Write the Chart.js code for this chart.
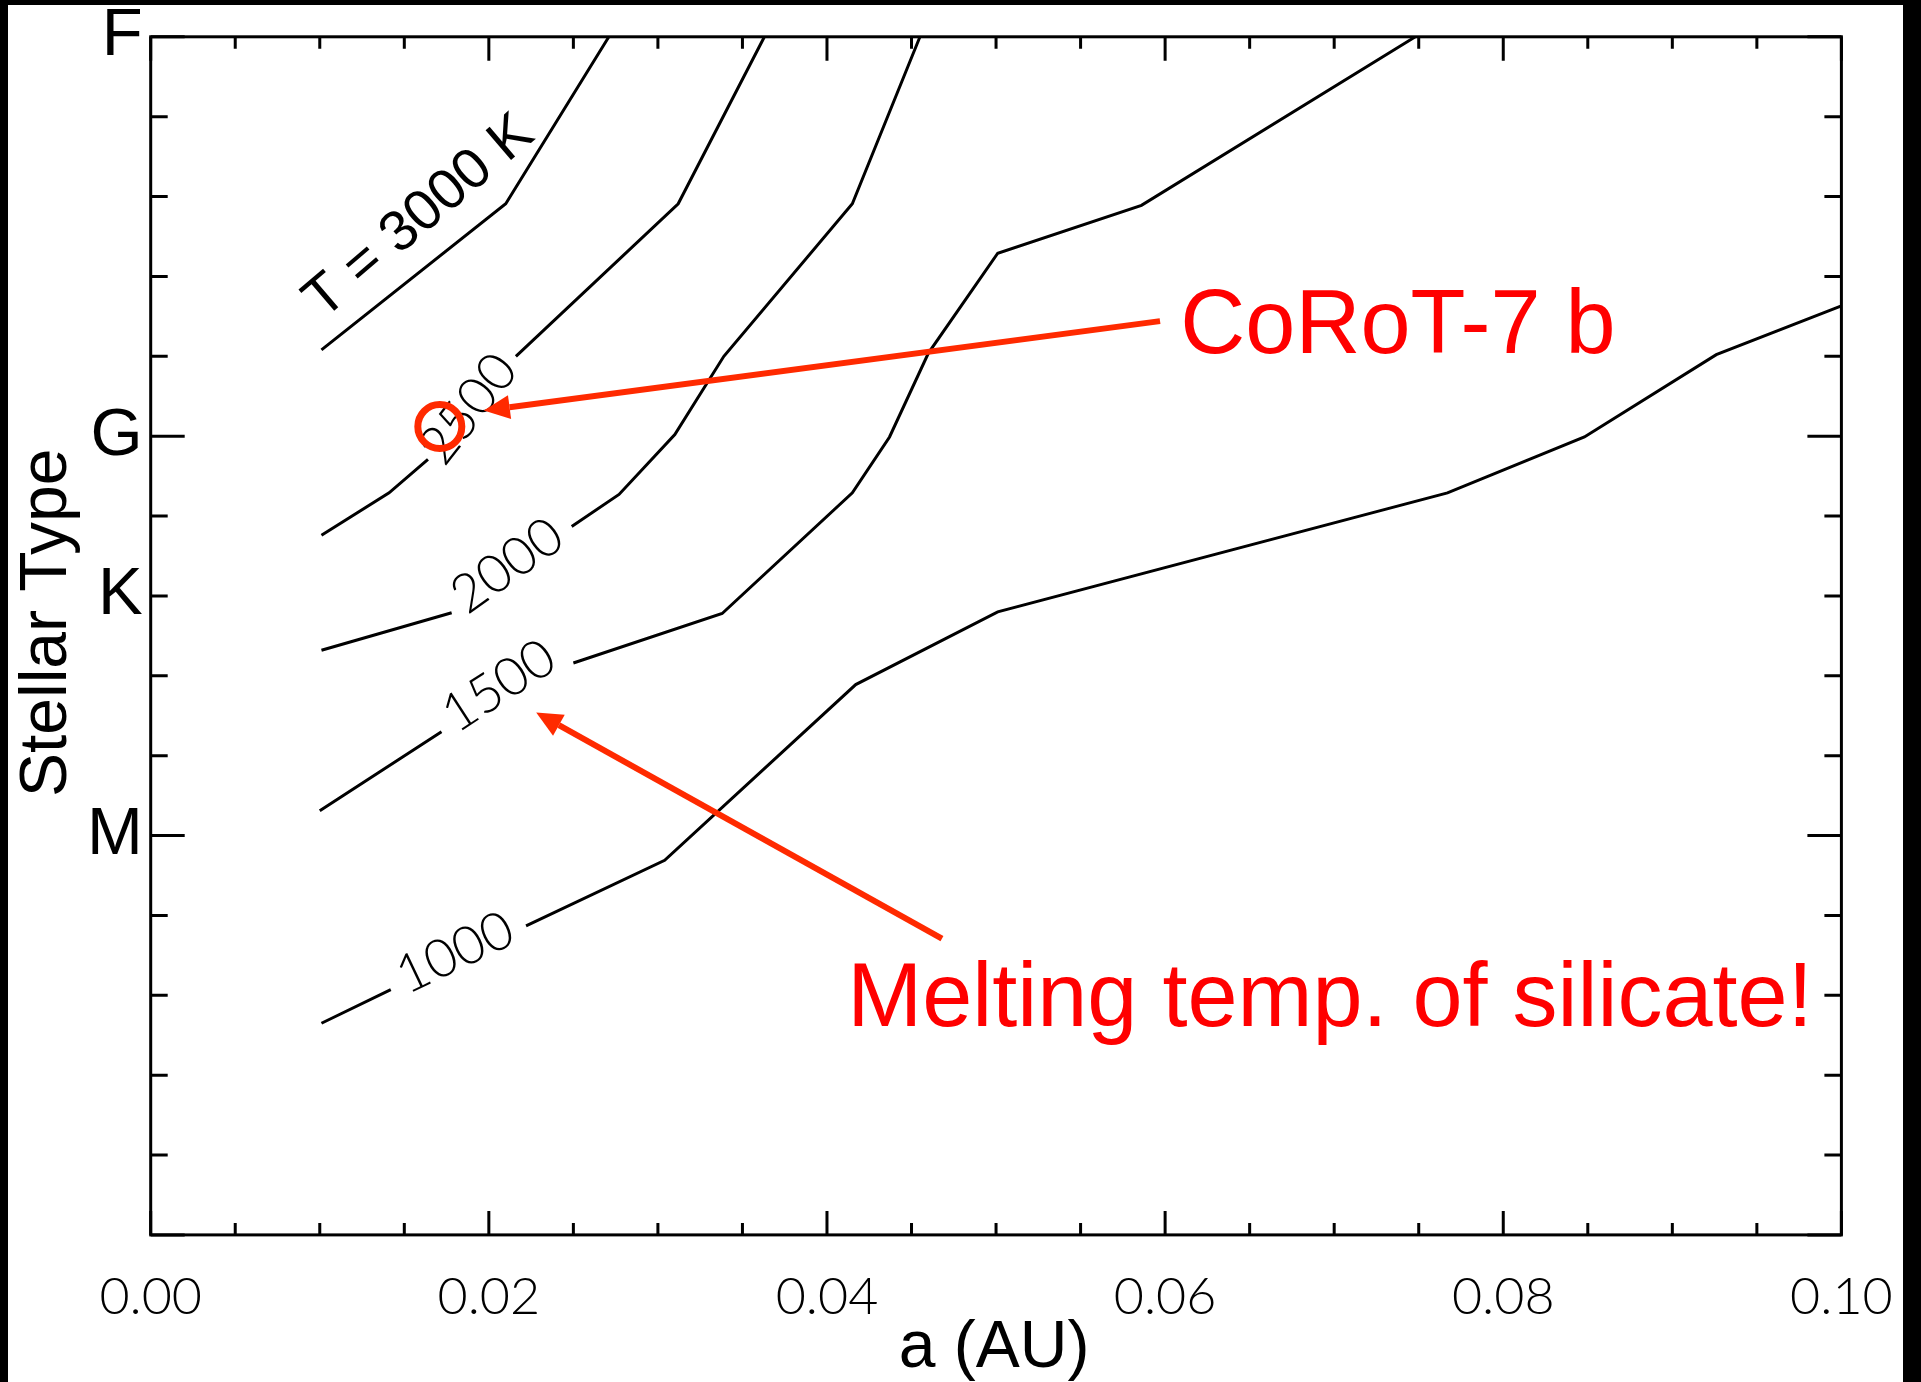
<!DOCTYPE html>
<html>
<head>
<meta charset="utf-8">
<title>Stellar type vs. orbital distance</title>
<script src="https://cdn.jsdelivr.net/npm/chart.js@4.4.1/dist/chart.umd.min.js"></script>
<style>
  html, body { margin: 0; padding: 0; background: #fff; }
</style>
</head>
<body>
<canvas id="tempChart" width="1921" height="1382"></canvas>
<script>
// x: orbital distance a (AU), y: stellar mass (Msun), stellar types marked on the left
const xTickValues = [0, 0.02, 0.04, 0.06, 0.08, 0.10];
const yTickValues = [0.5, 0.8, 1.0, 1.5];
const yTickLabels = ['M', 'K', 'G', 'F'];

// equilibrium temperature contours, [a, mass]; null = gap for the label
const contourLevels = [1000, 1500, 2000, 2500, 3000];
const contour1000 = [[0.0101, 0.265], [0.0142, 0.307], null, [0.0222, 0.387], [0.0304, 0.469],
  [0.0417, 0.689], [0.0501, 0.780], [0.0767, 0.929], [0.0848, 0.999], [0.0926, 1.102], [0.1000, 1.163]];
const contour1500 = [[0.0100, 0.531], [0.0172, 0.630], null, [0.0250, 0.716], [0.0338, 0.778],
  [0.0415, 0.929], [0.0437, 0.999], [0.0460, 1.104], [0.0501, 1.229], [0.0586, 1.289], [0.0748, 1.500]];
const contour2000 = [[0.0101, 0.732], [0.0178, 0.779], null, [0.0249, 0.887], [0.0277, 0.927],
  [0.0310, 1.002], [0.0339, 1.100], [0.0415, 1.291], [0.0455, 1.500]];
const contour2500 = [[0.0101, 0.876], [0.0141, 0.929], [0.0164, 0.971], null, [0.0216, 1.100],
  [0.0312, 1.291], [0.0363, 1.500]];
const contour3000 = [[0.0101, 1.108], [0.0210, 1.291], [0.0271, 1.500]];
const contourLines = [contour1000, contour1500, contour2000, contour2500, contour3000];

// where the level numbers sit along their lines (3000 gets its own label)
const labelA = [0.0180, 0.0206, 0.0211, 0.0188];
const labelM = [0.353, 0.687, 0.8375, 1.034];
const labelAngle = [-25.5, -33, -35.5, -52];

// CoRoT-7 b
const planetA = [0.0171];
const planetM = [1.012];

const RED = '#ff0000';
const ARROW = '#ff2a00';
const SANS = '"Liberation Sans", Arial, sans-serif';
const THIN = 'Lato, "DejaVu Sans", sans-serif';

function toPoints(line) {
  return line.map((p, i) => p ? { x: p[0], y: p[1] } : { x: line[i - 1][0], y: null });
}

function arrow(ctx, x1, y1, x2, y2) {
  const ang = Math.atan2(y2 - y1, x2 - x1);
  const head = 26, half = 12;
  const bx = x2 - head * Math.cos(ang), by = y2 - head * Math.sin(ang);
  ctx.beginPath();
  ctx.moveTo(x1, y1);
  ctx.lineTo(bx, by);
  ctx.stroke();
  ctx.beginPath();
  ctx.moveTo(x2, y2);
  ctx.lineTo(bx + half * Math.sin(ang), by - half * Math.cos(ang));
  ctx.lineTo(bx - half * Math.sin(ang), by + half * Math.cos(ang));
  ctx.closePath();
  ctx.fill();
}

// level numbers go under the lines
const levelLabels = {
  id: 'levelLabels',
  beforeDatasetsDraw(chart) {
    const { ctx, scales: { x, y } } = chart;
    ctx.save();
    ctx.fillStyle = '#000';
    ctx.font = '300 53px ' + THIN;
    ctx.textAlign = 'center';
    ctx.textBaseline = 'middle';
    labelA.forEach((a, i) => {
      ctx.save();
      ctx.translate(x.getPixelForValue(a), y.getPixelForValue(labelM[i]));
      ctx.rotate(labelAngle[i] * Math.PI / 180);
      ctx.fillText(String(contourLevels[i]), 0, 0);
      ctx.restore();
    });
    // T = 3000 K sits above its line
    ctx.save();
    ctx.font = '57px ' + SANS;
    ctx.translate(x.getPixelForValue(0.0159), y.getPixelForValue(1.274));
    ctx.rotate(-40.5 * Math.PI / 180);
    ctx.fillText('T = 3000 K', 0, 0);
    ctx.restore();
    ctx.restore();
  }
};

// frame, inward ticks on all four sides, notes and arrows
const decorations = {
  id: 'decorations',
  afterDatasetsDraw(chart) {
    const { ctx, chartArea: a, scales: { x, y } } = chart;
    ctx.save();
    ctx.strokeStyle = '#000';
    ctx.lineWidth = 3;
    ctx.beginPath();
    for (let i = 0; i <= 20; i++) {
      const px = x.getPixelForValue(i * 0.005);
      const len = i % 4 === 0 ? 24 : 12;
      ctx.moveTo(px, a.bottom); ctx.lineTo(px, a.bottom - len);
      ctx.moveTo(px, a.top); ctx.lineTo(px, a.top + len);
    }
    for (let j = 0; j <= 15; j++) {
      const py = y.getPixelForValue(j * 0.1);
      const len = j % 5 === 0 ? 34 : 17;
      ctx.moveTo(a.left, py); ctx.lineTo(a.left + len, py);
      ctx.moveTo(a.right, py); ctx.lineTo(a.right - len, py);
    }
    ctx.stroke();
    ctx.strokeRect(a.left, a.top, a.right - a.left, a.bottom - a.top);

    ctx.strokeStyle = ARROW;
    ctx.fillStyle = ARROW;
    ctx.lineWidth = 6;
    arrow(ctx, x.getPixelForValue(0.0597), y.getPixelForValue(1.144),
      x.getPixelForValue(0.0197), y.getPixelForValue(1.032));
    arrow(ctx, x.getPixelForValue(0.0468), y.getPixelForValue(0.371),
      x.getPixelForValue(0.0228), y.getPixelForValue(0.654));

    ctx.fillStyle = RED;
    ctx.font = '90px ' + SANS;
    ctx.textAlign = 'left';
    ctx.textBaseline = 'alphabetic';
    ctx.fillText('CoRoT-7 b', x.getPixelForValue(0.0609), y.getPixelForValue(1.104));
    ctx.fillText('Melting temp. of silicate!', x.getPixelForValue(0.0412), y.getPixelForValue(0.261));
    ctx.restore();
  },
  afterDraw(chart) {
    const { ctx, chartArea: a, width, height } = chart;
    ctx.save();
    ctx.fillStyle = '#000';
    ctx.font = '66px ' + SANS;
    ctx.textAlign = 'center';
    ctx.textBaseline = 'alphabetic';
    ctx.fillText('a (AU)', (a.left + a.right) / 2 - 2, a.bottom + 132);
    ctx.save();
    ctx.translate(a.left - 85, (a.top + a.bottom) / 2 - 13);
    ctx.rotate(-Math.PI / 2);
    ctx.fillText('Stellar Type', 0, 0);
    ctx.restore();
    // dark edges of the slide
    ctx.fillRect(0, 0, 8, height);
    ctx.fillRect(0, 0, width, 5);
    ctx.fillRect(width - 18, 0, 18, height);
    ctx.restore();
  }
};

const datasets = contourLines.map((line, i) => ({
  label: 'T = ' + contourLevels[i] + ' K',
  data: toPoints(line),
  borderColor: '#000',
  borderWidth: 3,
  pointRadius: 0,
  tension: 0,
  spanGaps: false,
  fill: false
}));
datasets.push({
  label: 'CoRoT-7 b',
  data: planetA.map((a, i) => ({ x: a, y: planetM[i] })),
  showLine: false,
  pointStyle: 'circle',
  pointRadius: 22,
  pointBorderWidth: 7,
  pointBorderColor: ARROW,
  pointBackgroundColor: 'rgba(0,0,0,0)'
});

new Chart(document.getElementById('tempChart'), {
  type: 'line',
  data: { datasets: datasets },
  options: {
    responsive: false,
    animation: false,
    events: [],
    layout: { padding: { top: 36.8, right: 79.6, left: 0, bottom: 0 } },
    plugins: { legend: { display: false }, tooltip: { enabled: false } },
    scales: {
      x: {
        type: 'linear',
        min: 0,
        max: 0.1,
        grid: { display: false, drawTicks: false },
        border: { display: false },
        afterBuildTicks: function (scale) {
          scale.ticks = xTickValues.map(v => ({ value: v }));
        },
        afterFit: function (scale) { scale.height = 147.1; },
        ticks: {
          autoSkip: false,
          maxRotation: 0,
          padding: 0,
          color: '#000',
          // tall line box pushes the single-line label down below the axis
          font: { family: THIN, size: 52, weight: 300, lineHeight: 2.385 },
          callback: v => v.toFixed(2)
        }
      },
      y: {
        type: 'linear',
        min: 0,
        max: 1.5,
        grid: { display: false, drawTicks: false },
        border: { display: false },
        afterBuildTicks: function (scale) {
          scale.ticks = yTickValues.map(v => ({ value: v }));
        },
        afterFit: function (scale) { scale.width = 150.7; },
        ticks: {
          autoSkip: false,
          padding: 8,
          color: '#000',
          font: { family: SANS, size: 67, lineHeight: 0.8 },
          callback: v => yTickLabels[yTickValues.indexOf(v)]
        }
      }
    }
  },
  plugins: [levelLabels, decorations]
});
</script>
</body>
</html>
